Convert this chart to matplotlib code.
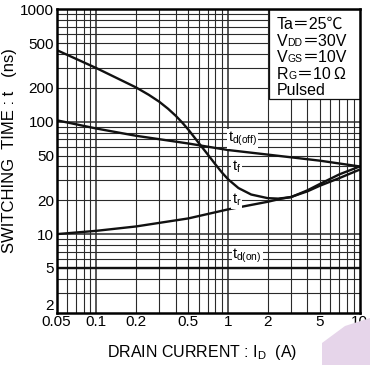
import numpy as np
import matplotlib
matplotlib.use("Agg")
import matplotlib.pyplot as plt
from matplotlib.patches import Rectangle, Polygon

plt.rcParams['font.family'] = ['Liberation Sans', 'DejaVu Sans']
plt.rcParams['mathtext.fontset'] = 'custom'
plt.rcParams['mathtext.rm'] = 'Liberation Sans'
plt.rcParams['mathtext.it'] = 'Liberation Sans'

# datos
x_tf = [0.05, 0.1, 0.2, 0.25, 0.3, 0.35, 0.4, 0.45, 0.5, 0.6, 0.7, 0.8, 0.9, 1.0, 1.2, 1.5,
        2.0, 2.4, 3.0, 4.0, 5.0, 7.0, 10.0]
y_tf = [434, 300, 202, 173.6, 150.8, 130.6, 113.2, 98, 85, 64.6, 51.3, 41.9, 35.3, 30.8, 25.7, 22.5,
        20.9, 20.7, 21.3, 24.5, 28, 34, 40]

x_tr = [0.05, 0.1, 0.2, 0.5, 1.0, 2.0, 2.5, 3.0, 4.0, 5.0, 7.0, 10.0]
y_tr = [10, 10.7, 11.7, 13.8, 16.6, 19.4, 20.6, 21.4, 24, 27, 31.5, 37.5]

x_tdoff = [0.05, 0.1, 0.2, 0.5, 1.0, 2.0, 5.0, 10.0]
y_tdoff = [103, 87, 75, 64, 56, 51, 45, 40]

x_tdon = [0.05, 10.0]
y_tdon = [5, 5]

xticks = [0.05, 0.1, 0.2, 0.5, 1, 2, 5, 10]
xticklabels = ['0.05', '0.1', '0.2', '0.5', '1', '2', '5', '10']
yticks = [2, 5, 10, 20, 50, 100, 200, 500, 1000]
yticklabels = ['2', '5', '10', '20', '50', '100', '200', '500', '1000']

# cada linea del recuadro: (texto, tamano)
condiciones = [
    [('Ta\uff1d25\u2103', 11.5)],
    [('V', 11.5), ('DD', 7.5), ('\uff1d30V', 11.5)],
    [('V', 11.5), ('GS', 7.5), ('\uff1d10V', 11.5)],
    [('R', 11.5), ('G', 7.5), ('\uff1d10\u2009\u03a9', 11.5)],
    [('Pulsed', 11.5)],
]
fam_cjk = ['Liberation Sans', 'Noto Sans CJK JP', 'DejaVu Sans']

f = plt.figure(figsize=(3.7, 3.65), dpi=100)
ax = f.add_axes([0.1532, 0.1433, 0.819, 0.8312])
ax.set_xscale('log')
ax.set_yscale('log')
ax.set_xlim(0.05, 10)
ax.set_ylim(2, 1000)

# rejilla
gx = [k * 10.0**e for e in (-2, -1, 0) for k in range(1, 10)]
gx = [v for v in gx if 0.05 < v < 10]
gy = [k * 10.0**e for e in (0, 1, 2) for k in range(1, 10)]
gy = [v for v in gy if 2 < v < 1000]
for v in gx:
    lw = 1.1 if v in (0.1, 1.0) else 0.8
    ax.axvline(v, color='#2a2a2a', lw=lw, zorder=1)
for v in gy:
    lw = 1.1 if v in (10.0, 100.0) else 0.8
    ax.axhline(v, color='#2a2a2a', lw=lw, zorder=1)

# curvas
for xs, ys in ((x_tf, y_tf), (x_tr, y_tr), (x_tdoff, y_tdoff), (x_tdon, y_tdon)):
    ax.plot(xs, ys, color='#111111', lw=1.7, zorder=3, solid_capstyle='butt',
            solid_joinstyle='round')

# etiquetas de curvas
bb = dict(facecolor='white', edgecolor='none', pad=0.6)
ax.text(1.0, 70, r't$_{\rm d(off)}$', fontsize=10.5, va='center', ha='left', bbox=bb, zorder=4)
ax.text(1.07, 40, r't$_{\rm f}$', fontsize=10.5, va='center', ha='left', bbox=bb, zorder=4)
ax.text(1.07, 20, r't$_{\rm r}$', fontsize=10.5, va='center', ha='left', bbox=bb, zorder=4)
ax.text(1.08, 6.4, r't$_{\rm d(on)}$', fontsize=10.5, va='center', ha='left', bbox=bb, zorder=4)

# recuadro de condiciones
ax.add_patch(Rectangle((0.70, 0.703), 0.30, 0.297, transform=ax.transAxes,
                       facecolor='white', edgecolor='#111111', lw=0.9, zorder=5))
r = f.canvas.get_renderer()
ys_txt = [0.937, 0.880, 0.825, 0.770, 0.717]
for partes, yy in zip(condiciones, ys_txt):
    xx = 0.727
    for s, tam in partes:
        t = ax.text(xx, yy, s, transform=ax.transAxes, fontsize=tam, va='baseline',
                    ha='left', zorder=6, family=fam_cjk)
        e = t.get_window_extent(renderer=r)
        xx = ax.transAxes.inverted().transform((e.x1, e.y0))[0]

ax.set_xticks(xticks)
ax.set_xticklabels(xticklabels)
ax.set_yticks(yticks)
ax.set_yticklabels(yticklabels)
ax.minorticks_off()
ax.tick_params(length=0, labelsize=11)
ax.tick_params(axis='x', pad=2)
ax.tick_params(axis='y', pad=2)
ax.get_yticklabels()[0].set_verticalalignment('bottom')
for s in ax.spines.values():
    s.set_linewidth(1.8)
    s.set_zorder(7)

ax.set_xlabel('DRAIN CURRENT : I$_{\\rm D}$  (A)', fontsize=11.5)
ax.xaxis.set_label_coords(0.48, -0.1)
ax.set_ylabel('SWITCHING  TIME : t   (ns)', fontsize=12)
ax.yaxis.set_label_coords(-0.131, 0.533)

# mancha lila abajo a la derecha
f.patches.append(Polygon([(322/370, 0), (322/370, 1-343/365), (345/370, 1-326/365),
                          (1, 1-318/365), (1, 0)], closed=True, transform=f.transFigure,
                         facecolor='#e6d5ea', edgecolor='none', zorder=0))

f.savefig('out.png', dpi=100)
